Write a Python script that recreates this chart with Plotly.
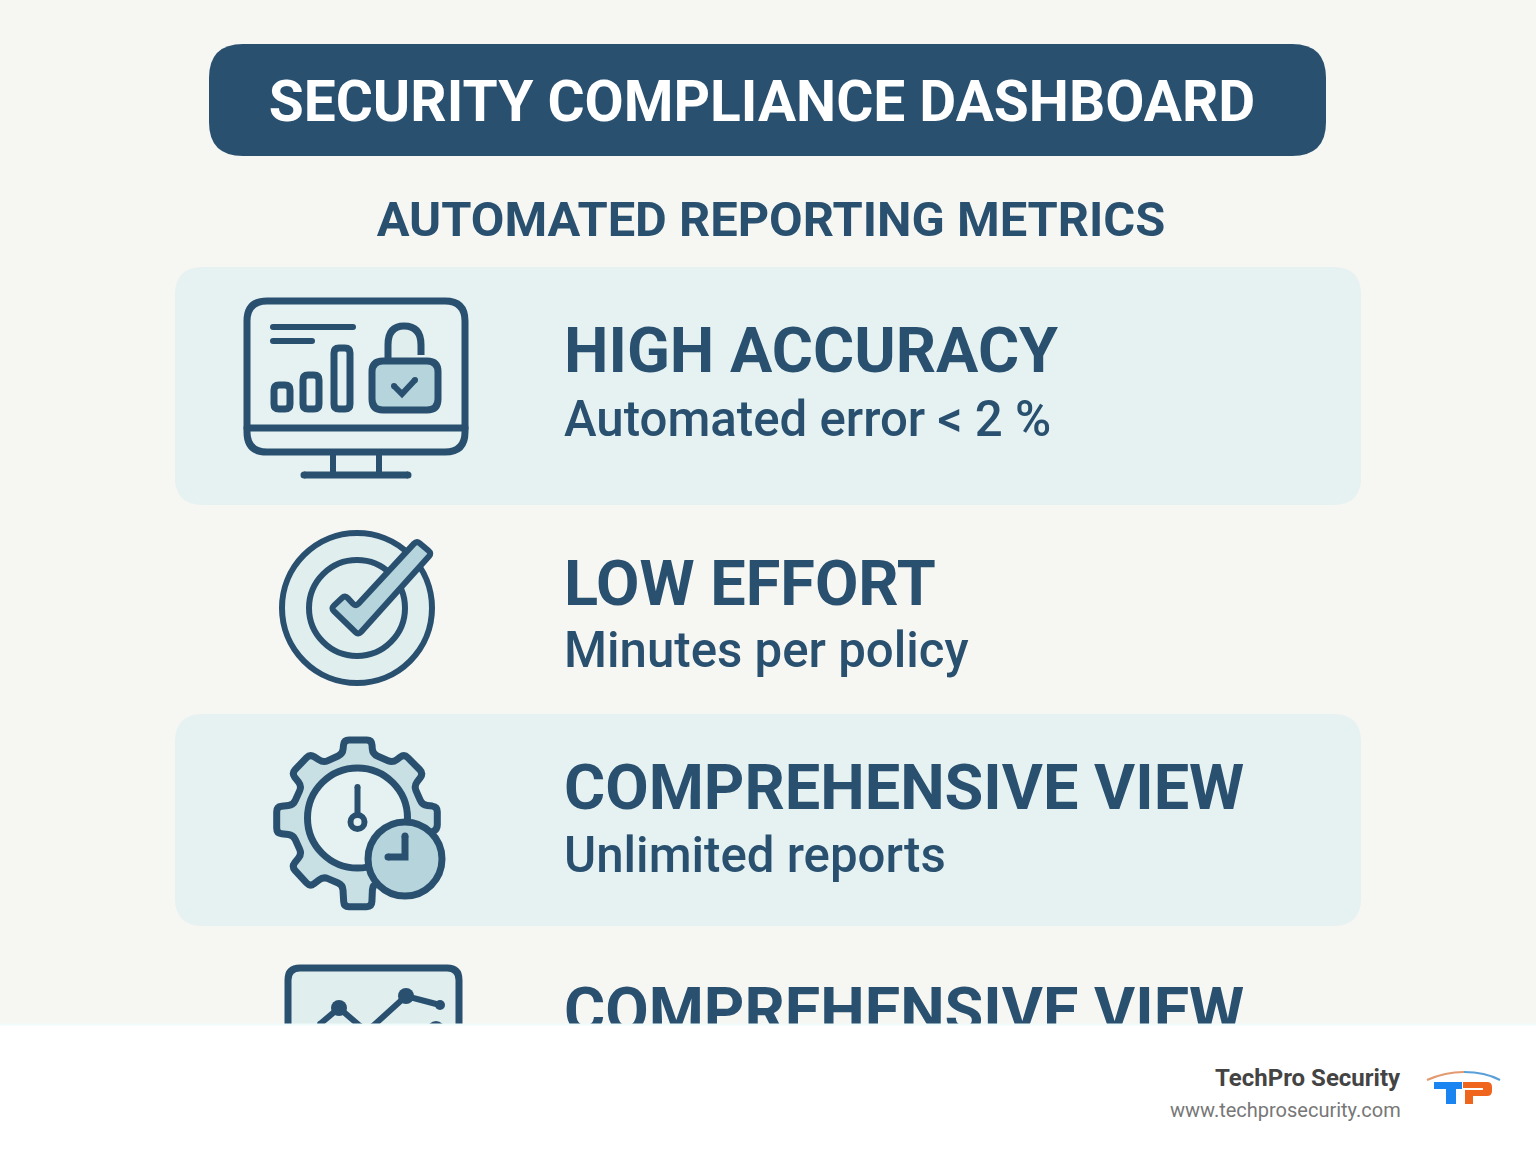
import plotly.graph_objects as go

# text content
banner_title = "SECURITY COMPLIANCE DASHBOARD"
sub_title = "AUTOMATED REPORTING METRICS"
row_titles = ["HIGH ACCURACY", "LOW EFFORT", "COMPREHENSIVE VIEW", "COMPREHENSIVE VIEW"]
row_details = ["Automated error < 2 %", "Minutes per policy", "Unlimited reports"]
footer_name = "TechPro Security"
footer_url = "www.techprosecurity.com"

# page geometry, in pixels
W, H = 1536, 1154
title_y = [356, 589, 793, 1016]
detail_y = [424, 655, 860]
FOOT_Y = 1025

NAVY = "#2a5070"
MID = "#b5d4dc"
GEAR = "#c8e0e4"
PALE = "#e5f2f1"
PAPER = "#f6f6f2"
ICON_PALE = "#e0eeee"
CLEAR = "rgba(0,0,0,0)"

shapes = []


def rrect(x0, y0, x1, y1, r):
    return (f"M{x0+r},{y0} L{x1-r},{y0} Q{x1},{y0} {x1},{y0+r} L{x1},{y1-r} Q{x1},{y1} {x1-r},{y1} "
            f"L{x0+r},{y1} Q{x0},{y1} {x0},{y1-r} L{x0},{y0+r} Q{x0},{y0} {x0+r},{y0} Z")


def add_path(path, fill=CLEAR, line=NAVY, lw=7, layer="above"):
    shapes.append(dict(type="path", path=path, fillcolor=fill, xref="x", yref="y", layer=layer,
                       line=dict(color=line, width=lw)))


def add_box(x0, y0, x1, y1, r, fill=CLEAR, lw=7, layer="above"):
    if lw:
        add_path(rrect(x0, y0, x1, y1, r), fill, NAVY, lw, layer)
    else:
        add_path(rrect(x0, y0, x1, y1, r), fill, CLEAR, 0, layer)


def add_circle(cx, cy, r, fill=CLEAR, lw=7):
    shapes.append(dict(type="circle", x0=cx-r, x1=cx+r, y0=cy-r, y1=cy+r, fillcolor=fill, layer="above",
                       xref="x", yref="y", line=dict(color=NAVY, width=lw)))


def add_stroke(pts, lw=7):
    # round off the ends with small dots, plotly has no linecap for shapes
    path = "M" + " L".join(f"{x},{y}" for x, y in pts)
    add_path(path, lw=lw)
    for x, y in (pts[0], pts[-1]):
        shapes.append(dict(type="circle", x0=x-lw/2, x1=x+lw/2, y0=y-lw/2, y1=y+lw/2, fillcolor=NAVY,
                           layer="above", xref="x", yref="y", line=dict(width=0)))


def zoomed(pts, ox, oy):
    return [(ox + x / 3, oy + y / 3) for x, y in pts]


def round_poly(pts, r):
    # polygon with softened corners
    n = len(pts)
    out = []
    for i in range(n):
        px, py = pts[i-1]
        x, y = pts[i]
        nx, ny = pts[(i+1) % n]
        d1 = max(((x-px)**2 + (y-py)**2)**0.5, 1e-6)
        d2 = max(((x-nx)**2 + (y-ny)**2)**0.5, 1e-6)
        a = min(r, d1/2) / d1
        b = min(r, d2/2) / d2
        sx, sy = x + (px-x)*a, y + (py-y)*a
        ex, ey = x + (nx-x)*b, y + (ny-y)*b
        out.append(f"{'M' if i == 0 else 'L'}{sx:.1f},{sy:.1f} Q{x:.1f},{y:.1f} {ex:.1f},{ey:.1f}")
    return " ".join(out) + " Z"


# banner and panels
add_box(209, 44, 1326, 156, 34, fill=NAVY, lw=0, layer="below")
add_box(175, 267, 1361, 505, 28, fill=PALE, lw=0, layer="below")
add_box(175, 714, 1361, 926, 28, fill=PALE, lw=0, layer="below")

# monitor icon
add_box(247, 301, 465, 452, 20)
add_stroke([(247, 428), (465, 428)])
add_stroke([(333, 453), (333, 473)], 6)
add_stroke([(379, 453), (379, 473)], 6)
add_stroke([(304, 475), (408, 475)])
add_stroke([(273, 327), (353, 327)], 6)
add_stroke([(273, 341), (312, 341)], 6)
add_box(274, 385, 290, 409, 5)
add_box(303, 375, 319, 409, 5)
add_box(334, 348, 350, 409, 5)
add_path("M388,360 L388,345 Q388,326 404,326 Q421,326 421,345 L421,355", fill=ICON_PALE)
add_box(372, 361, 438, 410, 11, fill=MID)
add_stroke([(394, 386), (402, 394), (415, 380)], 6)

# target icon
add_circle(357, 608, 75, fill=ICON_PALE, lw=6)
add_circle(357, 608, 48, fill=ICON_PALE, lw=6)
check = zoomed([(213, 265), (255, 225), (287, 260), (470, 62), (515, 100), (295, 345)], 260, 520)
add_path(round_poly(check, 4), fill=MID, lw=6)

# gear and clock icon
gear = zoomed([(252, 30), (335, 30), (338, 72), (398, 98), (433, 72), (490, 130), (462, 168), (487, 225),
               (532, 230), (532, 300), (490, 315), (462, 375), (490, 410), (435, 470), (398, 440),
               (338, 465), (335, 530), (252, 530), (248, 465), (190, 440), (150, 470), (95, 410),
               (125, 372), (100, 315), (50, 310), (50, 230), (100, 225), (125, 168), (95, 130),
               (150, 72), (190, 98), (248, 72)], 260, 730)
add_path(round_poly(gear, 5), fill=GEAR)
add_circle(357.5, 818, 50, fill=PALE)
add_stroke([(357.5, 787), (357.5, 815)], 6)
add_circle(357.5, 822, 7, fill=PALE, lw=6)
add_circle(405, 859, 37, fill=MID)
add_stroke([(405, 836), (405, 857), (388, 857)])

# chart icon, cut off by the footer
add_box(288, 968, 459, 1060, 12, fill=ICON_PALE)
add_stroke([(320, 1024), (339, 1008), (360, 1026)], 6)
add_stroke([(373, 1026), (406, 996), (440, 1005)], 6)
for cx, cy, r in [(339, 1008, 8), (406, 996, 8), (440, 1005, 5), (436, 1030, 9)]:
    add_circle(cx, cy, r, fill=NAVY, lw=0)

# footer covers the last row
shapes.append(dict(type="rect", x0=0, x1=W, y0=FOOT_Y, y1=H, fillcolor="white", layer="above",
                   xref="x", yref="y", line=dict(width=0)))
shapes.append(dict(type="line", x0=0, x1=W, y0=FOOT_Y-0.5, y1=FOOT_Y-0.5, layer="above",
                   xref="x", yref="y", line=dict(color="#f0fbfb", width=2)))

# logo
add_path("M1427,1080 Q1445,1072 1464,1072", line="#e49a70", lw=2)
add_path("M1464,1072 Q1485,1072 1500,1080", line="#5aa0d8", lw=2)
add_path("M1434,1082 L1462,1082 L1462,1089 L1456,1089 L1456,1104 L1446,1104 L1446,1089 L1434,1089 Z",
         fill="#1a84f0", line=CLEAR, lw=0)
add_path("M1463,1082 L1487,1082 Q1492,1082 1492,1087 L1492,1091 Q1492,1096 1487,1096 L1473,1096 L1473,1104 "
         "L1465,1104 L1465,1090 L1483,1090 L1483,1088 L1463,1088 Z",
         fill="#f0651e", line=CLEAR, lw=0)

fig = go.Figure()
# text of the page lives in traces so the footer shape can hide the cut row
fig.add_trace(go.Scatter(x=[762], y=[107], mode="text", text=[banner_title], textposition="middle center",
                         textfont=dict(family="Roboto", size=56.8, color="white", weight=700), hoverinfo="skip"))
fig.add_trace(go.Scatter(x=[771], y=[224], mode="text", text=[sub_title], textposition="middle center",
                         textfont=dict(family="Roboto", size=48.8, color=NAVY, weight=700), hoverinfo="skip"))
fig.add_trace(go.Scatter(x=[564] * len(row_titles), y=title_y, mode="text", text=row_titles,
                         textposition="middle right", hoverinfo="skip",
                         textfont=dict(family="Roboto", size=63, color=NAVY, weight=700)))
fig.add_trace(go.Scatter(x=[564] * len(row_details), y=detail_y, mode="text", text=row_details,
                         textposition="middle right", hoverinfo="skip",
                         textfont=dict(family="Roboto", size=49.2, color=NAVY, weight=500)))

fig.add_annotation(x=1403, y=1078, text=footer_name, showarrow=False, xanchor="right", yanchor="middle",
                   xref="x", yref="y", font=dict(family="Roboto", size=24, color="#444444", weight=700))
fig.add_annotation(x=1403, y=1110, text=footer_url, showarrow=False, xanchor="right", yanchor="middle",
                   xref="x", yref="y", font=dict(family="Roboto", size=20, color="#777777"))

fig.update_layout(width=W, height=H, margin=dict(l=0, r=0, t=0, b=0), showlegend=False,
                  paper_bgcolor=PAPER, plot_bgcolor=PAPER, shapes=shapes)
fig.update_xaxes(range=[0, W], visible=False)
fig.update_yaxes(range=[H, 0], visible=False)

# page default margin would push the figure 8px in
fig.write_html("out.html", config={"displayModeBar": False}, post_script="document.body.style.margin='0';")
